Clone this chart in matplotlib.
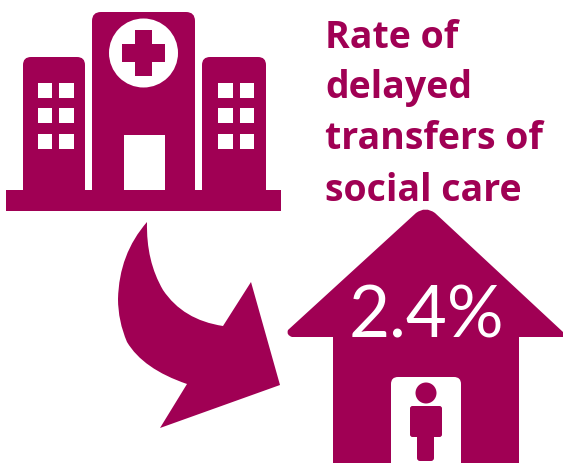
import matplotlib
matplotlib.use("Agg")
import matplotlib.pyplot as plt
from matplotlib.patches import PathPatch, Rectangle, Circle, FancyBboxPatch
from matplotlib.path import Path

title_lines = ["Rate of", "delayed", "transfers of", "social care"]
rate_value = 2.4
rate_label = f"{rate_value}%"

C = "#A00054"
W = "white"
fig = plt.figure(figsize=(5.63, 4.64), dpi=100)
ax = fig.add_axes([0, 0, 1, 1])
ax.set_xlim(0, 563)
ax.set_ylim(464, 0)
ax.axis("off")

def rect(x0, y0, x1, y1, c=C, z=2):
    ax.add_patch(Rectangle((x0, y0), x1 - x0, y1 - y0, fc=c, ec="none", zorder=z))

def rrect(x0, y0, x1, y1, r, c=C, z=2):
    ax.add_patch(FancyBboxPatch((x0 + r, y0 + r), x1 - x0 - 2 * r, y1 - y0 - 2 * r,
                                boxstyle=f"round,pad={r},rounding_size={r}",
                                fc=c, ec="none", zorder=z))

def poly(codes_pts, c=C, z=2):
    verts = [p for _, p in codes_pts]
    codes = [k for k, _ in codes_pts]
    ax.add_patch(PathPatch(Path(verts, codes), fc=c, ec="none", zorder=z))

M, L, Q, Z = Path.MOVETO, Path.LINETO, Path.CURVE3, Path.CLOSEPOLY

# Hospital
rrect(92, 13, 195, 200, 9)
rrect(23, 58, 85, 200, 8)
rrect(202, 58, 266, 200, 8)
rect(6, 191, 281, 212)
ax.add_patch(Circle((143.5, 54), 34.5, fc=W, ec="none", zorder=3))
rect(122, 45, 165, 63, C, 4)
rect(135, 31, 152, 77, C, 4)
rect(124, 136, 165, 191, W, 3)
for x0 in (37.5, 59, 218, 239.5):
    for y0 in (83.5, 108.5, 134.5):
        rect(x0, y0, x0 + 14.5, y0 + 15, W, 3)

# Arrow
poly([(M, (147, 223)),
      (Q, (146, 262)), (L, (163, 291)),
      (Q, (183, 321)), (L, (223, 327)),
      (L, (251, 283)), (L, (280, 386)), (L, (160, 429)), (L, (187, 385)),
      (Q, (143, 370)), (L, (127, 343)),
      (Q, (118, 322)), (L, (118, 300)),
      (Q, (119, 255)), (L, (147, 223)),
      (Z, (147, 223))])

# House
poly([(M, (288, 331)), (L, (416, 214)),
      (Q, (425.5, 207)), (L, (435, 214)),
      (L, (563, 333)), (L, (563, 338)), (L, (519, 338)),
      (L, (519, 470)), (L, (333, 470)), (L, (333, 338)),
      (L, (292, 338)), (Q, (286, 336)), (L, (288, 331)),
      (Z, (288, 331))])
rrect(391, 378, 461, 480, 7, W, 3)
ax.add_patch(Circle((426, 394), 10.5, fc=C, ec="none", zorder=4))
rrect(410, 407, 442, 438, 2.5, C, 4)
rrect(417, 425, 434, 462, 3, C, 4)

# Text
for line, y in zip(title_lines, (48, 98, 149, 201)):
    ax.text(325, y, line, color=C, fontsize=27, family="Open Sans", weight="bold",
            ha="left", va="baseline", zorder=5)
ax.text(349, 338, rate_label, color=W, fontsize=51, family="Lato", weight="normal",
        ha="left", va="baseline", zorder=5)

fig.savefig("out.png", dpi=100)
